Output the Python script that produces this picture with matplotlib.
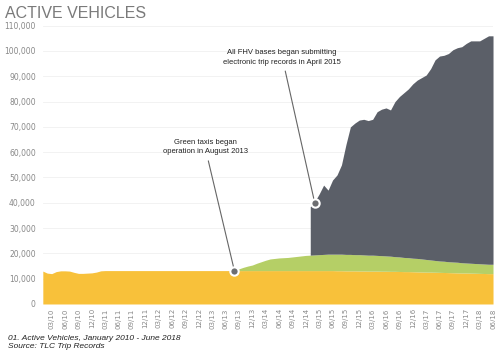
import matplotlib
matplotlib.use('Agg')
import matplotlib.pyplot as plt
import numpy as np

# monthly data, Jan 2010 (index 0) .. Jun 2018 (index 101)
months = np.arange(102)

yellow = [
    13000, 12200, 12000, 12800, 13100, 13100, 13000, 12500, 12100, 12100,
    12200, 12300, 12600, 13100, 13200, 13200, 13200, 13200, 13200, 13200,
    13200, 13200, 13200, 13200, 13200, 13200, 13200, 13200, 13200, 13200,
    13200, 13200, 13200, 13200, 13200, 13200, 13200, 13200, 13200, 13200,
    13200, 13200, 13200, 13200, 13200, 13200, 13200, 13200, 13200, 13200,
    13200, 13200, 13200, 13200, 13200, 13200, 13200, 13200, 13200, 13200,
    13200, 13200, 13200, 13200, 13200, 13200, 13150, 13150, 13100, 13100,
    13100, 13050, 13050, 13000, 13000, 13000, 12950, 12950, 12900, 12900,
    12850, 12800, 12800, 12750, 12700, 12650, 12600, 12600, 12550, 12500,
    12450, 12400, 12350, 12300, 12250, 12250, 12200, 12150, 12100, 12050,
    12000, 12000,
]

nan = np.nan
green = [nan] * 43 + [
    0, 700, 1300, 1800, 2200, 2900, 3500, 4100, 4600, 4800,
    5000, 5100, 5200, 5400, 5600, 5800, 6000,
    6100, 6200, 6300, 6400, 6500, 6500, 6550, 6550, 6500, 6500,
    6400, 6450, 6350, 6300, 6300, 6200, 6150, 6050, 6000, 5800,
    5750, 5600, 5500, 5350, 5300, 5150, 5000, 4800, 4650, 4500,
    4450, 4300, 4250, 4200, 4050, 3950, 3900, 3850, 3800, 3750,
    3700, 3700,
]

fhv = [nan] * 60 + [
    19200, 21100, 24000, 27400, 25300, 29300, 31300, 35300, 43400, 50400,
    52000, 53200, 53600, 53200, 53700, 56800, 57900, 58500, 57800, 61300,
    63400, 65100, 66700, 68900, 70500, 71700, 72900, 75600, 79300, 81000,
    81400, 82300, 83900, 84800, 85400, 86800, 87900, 88000, 88100, 89200,
    90300, 90300,
]

tick_pos = np.arange(2, 102, 3)
tick_labels = [
    '03/10', '06/10', '09/10', '12/10', '03/11', '06/11', '09/11', '12/11',
    '03/12', '06/12', '09/12', '12/12', '03/13', '06/13', '09/13', '12/13',
    '03/14', '06/14', '09/14', '12/14', '03/15', '06/15', '09/15', '12/15',
    '03/16', '06/16', '09/16', '12/16', '03/17', '06/17', '09/17', '12/17',
    '03/18', '06/18',
]

YELLOW = '#f8c13a'
GREEN = '#b5cf66'
GRAY = '#5b5f68'
narrow = ['Liberation Sans', 'DejaVu Sans']

y = np.array(yellow, dtype=float)
g = np.array(green, dtype=float)
f = np.array(fhv, dtype=float)

fig = plt.figure(figsize=(4.95, 3.52), dpi=100)
ax = fig.add_axes([0.0865, 0.1364, 0.9095, 0.7906])

ax.fill_between(months, 0, y, color=YELLOW, lw=0, zorder=2)
ax.fill_between(months, y, y + g, color=GREEN, lw=0, zorder=2)
ax.fill_between(months, y + g, y + g + f, color=GRAY, lw=0, zorder=2)

ax.set_xlim(0, 101)
ax.set_ylim(0, 110000)
ax.set_yticks(np.arange(0, 110001, 10000))
ax.set_yticklabels([f'{v:,}' for v in range(0, 110001, 10000)])
ax.set_xticks(tick_pos)
ax.set_xticklabels(tick_labels, rotation=90)
ax.tick_params(axis='y', length=0, pad=5, labelsize=5.5, labelcolor='#888888')
ax.tick_params(axis='x', length=0, pad=3, labelsize=5, labelcolor='#888888')
ax.grid(axis='y', color='#f0f0f0', lw=0.6, zorder=0)
for s in ax.spines.values():
    s.set_visible(False)

# annotations
mk = dict(marker='o', ms=6, mfc='#6d6e71', mec='white', mew=1.5, zorder=5)
ax.plot([43], [13000], **mk)
ax.plot([61], [40000], **mk)
ax.annotate('Green taxis began\noperation in August 2013', xy=(43, 13000),
            xytext=(36.4, 62000), ha='center', va='center', fontsize=5.5,
            family=narrow, color='#222222', linespacing=1.5,
            arrowprops=dict(arrowstyle='-', color='#666666', lw=0.8,
                            shrinkA=2, shrinkB=3))
ax.annotate('All FHV bases began submitting\nelectronic trip records in April 2015',
            xy=(61, 40000), xytext=(53.7, 97500), ha='center', va='center',
            fontsize=5.5, family=narrow, color='#222222', linespacing=1.5,
            arrowprops=dict(arrowstyle='-', color='#666666', lw=0.8,
                            shrinkA=2, shrinkB=3))

fig.text(0.01, 0.982, 'ACTIVE VEHICLES', ha='left', va='top', fontsize=11.5,
         family=narrow, color='#7a7a7a')
fig.text(0.016, 0.006, '01. Active Vehicles, January 2010 - June 2018\nSource: TLC Trip Records',
         ha='left', va='bottom', fontsize=6, family=narrow, style='italic',
         color='#222222', linespacing=1.25)

fig.savefig('out.png', dpi=100)
